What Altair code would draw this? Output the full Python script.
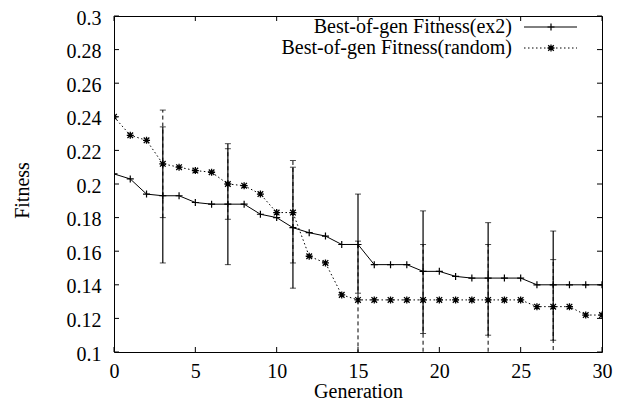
import altair as alt
import pandas as pd

generations = list(range(31))
ex2_fitness = [0.206, 0.203, 0.194, 0.193, 0.193, 0.189, 0.188, 0.188, 0.188, 0.182,
               0.180, 0.174, 0.171, 0.169, 0.164, 0.164, 0.152, 0.152, 0.152, 0.148,
               0.148, 0.145, 0.144, 0.144, 0.144, 0.144, 0.140, 0.140, 0.140, 0.140, 0.140]
random_fitness = [0.240, 0.229, 0.226, 0.212, 0.210, 0.208, 0.207, 0.200, 0.199, 0.194,
                  0.183, 0.183, 0.157, 0.153, 0.134, 0.131, 0.131, 0.131, 0.131, 0.131,
                  0.131, 0.131, 0.131, 0.131, 0.131, 0.131, 0.127, 0.127, 0.127, 0.122, 0.122]

err_gens = [3, 7, 11, 15, 19, 23, 27]
ex2_low = [0.153, 0.152, 0.138, 0.135, 0.111, 0.110, 0.107]
ex2_high = [0.234, 0.224, 0.210, 0.194, 0.184, 0.177, 0.172]
random_low = [0.180, 0.179, 0.153, 0.095, 0.096, 0.096, 0.097]
random_high = [0.244, 0.221, 0.214, 0.166, 0.164, 0.164, 0.155]

x_ticks = [0, 5, 10, 15, 20, 25, 30]
y_ticks = [0.1, 0.12, 0.14, 0.16, 0.18, 0.2, 0.22, 0.24, 0.26, 0.28, 0.3]
legend_labels = ["Best-of-gen Fitness(ex2)", "Best-of-gen Fitness(random)"]

W, H = 488, 336
FONT = "Liberation Serif"
FS = 20

xscale = alt.Scale(domain=[0, 30], nice=False, zero=False)
yscale = alt.Scale(domain=[0.1, 0.3], nice=False, zero=False)

x_axis = alt.Axis(title="Generation", values=x_ticks, ticks=False, tickSize=0, domain=False,
                  grid=False, labelFlush=False, labelOverlap=False, labelPadding=9,
                  titlePadding=0,
                  labelFont=FONT, labelFontSize=FS, labelColor="black",
                  titleFont=FONT, titleFontSize=FS, titleColor="black", titleFontWeight="normal")
y_axis = alt.Axis(title="Fitness", values=y_ticks, format=".2~f", ticks=False, tickSize=0,
                  domain=False, grid=False, labelFlush=False, labelOverlap=False,
                  labelPadding=13, labelOffset=2, titleAngle=270, titleX=-92, titleY=174,
                  titleAlign="center", titleBaseline="middle",
                  labelFont=FONT, labelFontSize=FS, labelColor="black",
                  titleFont=FONT, titleFontSize=FS, titleColor="black", titleFontWeight="normal")


def X(field):
    return alt.X(f"{field}:Q", scale=xscale, axis=x_axis)


def Y(field):
    return alt.Y(f"{field}:Q", scale=yscale, axis=y_axis)


lines_df = pd.DataFrame({"gen": generations, "ex2": ex2_fitness, "rnd": random_fitness})
err_df = pd.DataFrame({"gen": err_gens, "ex2_low": ex2_low, "ex2_high": ex2_high,
                       "rnd_low": random_low, "rnd_high": random_high})
xt_df = pd.DataFrame({"v": x_ticks})
yt_df = pd.DataFrame({"v": y_ticks})

plus_path = "M-1,0L1,0M0,-1L0,1"
star_path = "M-1,0L1,0M0,-1L0,1M-0.8,-0.8L0.8,0.8M-0.8,0.8L0.8,-0.8"

base = alt.Chart(lines_df)
err = alt.Chart(err_df)

rnd_line = base.mark_line(color="black", strokeWidth=1, strokeDash=[1.5, 2.5], clip=True).encode(
    x=X("gen"), y=Y("rnd"))
rnd_pts = base.mark_point(shape=star_path, size=49, color="black", strokeWidth=1.3,
                          filled=False, opacity=1, clip=True).encode(x=X("gen"), y=Y("rnd"))
rnd_bar = err.mark_rule(color="black", strokeWidth=1, strokeDash=[4, 3], clip=True).encode(
    x=X("gen"), y=Y("rnd_low"), y2="rnd_high:Q")
rnd_cap_lo = err.mark_tick(orient="horizontal", size=6, thickness=1, color="black", clip=True).encode(
    x=X("gen"), y=Y("rnd_low"))
rnd_cap_hi = err.mark_tick(orient="horizontal", size=6, thickness=1, color="black", clip=True).encode(
    x=X("gen"), y=Y("rnd_high"))

ex2_line = base.mark_line(color="black", strokeWidth=1, clip=True).encode(x=X("gen"), y=Y("ex2"))
ex2_pts = base.mark_point(shape=plus_path, size=49, color="black", strokeWidth=1.2,
                          filled=False, opacity=1, clip=True).encode(x=X("gen"), y=Y("ex2"))
ex2_bar = err.mark_rule(color="black", strokeWidth=1.2, clip=True).encode(
    x=X("gen"), y=Y("ex2_low"), y2="ex2_high:Q")
ex2_cap_lo = err.mark_tick(orient="horizontal", size=6, thickness=1, color="black", clip=True).encode(
    x=X("gen"), y=Y("ex2_low"))
ex2_cap_hi = err.mark_tick(orient="horizontal", size=6, thickness=1, color="black", clip=True).encode(
    x=X("gen"), y=Y("ex2_high"))

# inward tick marks on all four sides
xt = alt.Chart(xt_df)
yt = alt.Chart(yt_df)
tick_bottom = xt.mark_rule(color="black", strokeWidth=1).encode(
    x=X("v"), y=alt.value(H), y2=alt.value(H - 5))
tick_top = xt.mark_rule(color="black", strokeWidth=1).encode(
    x=X("v"), y=alt.value(0), y2=alt.value(5))
tick_left = yt.mark_rule(color="black", strokeWidth=1).encode(
    y=Y("v"), x=alt.value(0), x2=alt.value(5))
tick_right = yt.mark_rule(color="black", strokeWidth=1).encode(
    y=Y("v"), x=alt.value(W), x2=alt.value(W - 5))

# key (top right, labels right-aligned, samples to the right)
leg_df = pd.DataFrame({"label": legend_labels})
leg1 = alt.Chart(leg_df.iloc[[0]])
leg2 = alt.Chart(leg_df.iloc[[1]])
LX, SX1, SX2, MX = 398, 410, 463, 437
LY1, LY2 = 11, 32
leg_text1 = leg1.mark_text(align="right", baseline="middle", font=FONT, fontSize=FS, color="black").encode(
    text="label:N", x=alt.value(LX), y=alt.value(LY1))
leg_text2 = leg2.mark_text(align="right", baseline="middle", font=FONT, fontSize=FS, color="black").encode(
    text="label:N", x=alt.value(LX), y=alt.value(LY2))
leg_line1 = leg1.mark_rule(color="black", strokeWidth=1).encode(
    x=alt.value(SX1), x2=alt.value(SX2), y=alt.value(LY1))
leg_line2 = leg2.mark_rule(color="black", strokeWidth=1, strokeDash=[1.5, 2.5]).encode(
    x=alt.value(SX1), x2=alt.value(SX2), y=alt.value(LY2))
leg_pt1 = leg1.mark_point(shape=plus_path, size=49, color="black", strokeWidth=1.2, opacity=1).encode(
    x=alt.value(MX), y=alt.value(LY1))
leg_pt2 = leg2.mark_point(shape=star_path, size=49, color="black", strokeWidth=1.3, opacity=1).encode(
    x=alt.value(MX), y=alt.value(LY2))

chart = alt.layer(
    rnd_line, rnd_bar, rnd_cap_lo, rnd_cap_hi, rnd_pts,
    ex2_line, ex2_bar, ex2_cap_lo, ex2_cap_hi, ex2_pts,
    tick_bottom, tick_top, tick_left, tick_right,
    leg_text1, leg_text2, leg_line1, leg_line2, leg_pt1, leg_pt2,
).properties(
    width=W, height=H,
    background="white",
    autosize=alt.AutoSizeParams(type="none"),
    padding={"left": 106, "top": 8, "right": 15, "bottom": 50},
).configure_view(
    stroke="black", strokeWidth=1
)

chart.save("out.html", embed_options={"renderer": "svg", "actions": False})
